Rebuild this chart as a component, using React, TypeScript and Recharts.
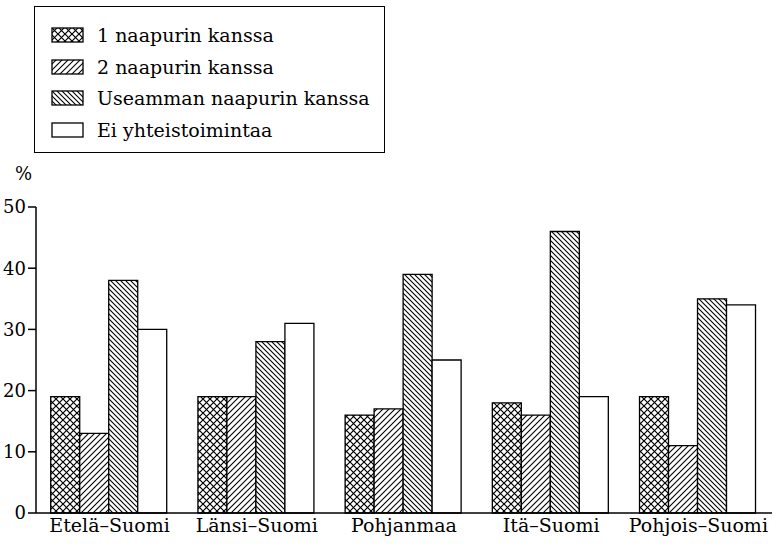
import React from "react";
import { Bar, BarChart, XAxis, YAxis } from "recharts";

const regions = ["Etelä–Suomi", "Länsi–Suomi", "Pohjanmaa", "Itä–Suomi", "Pohjois–Suomi"];
const oneNeighbour = [19, 19, 16, 18, 19];
const twoNeighbours = [13, 19, 17, 16, 11];
const manyNeighbours = [38, 28, 39, 46, 35];
const noCooperation = [30, 31, 25, 19, 34];
const leftTicks = [0, 10, 20, 30, 40, 50];
const rightTicks = [10, 20, 30, 40, 50];

const seriesNames = [
  "1 naapurin kanssa",
  "2 naapurin kanssa",
  "Useamman naapurin kanssa",
  "Ei yhteistoimintaa",
];
const seriesKeys = ["one", "two", "many", "none"];
const seriesFills = ["url(#pCross)", "url(#pFwd)", "url(#pBack)", "#fff"];

const chartData = regions.map((name, i) => ({
  name,
  one: oneNeighbour[i],
  two: twoNeighbours[i],
  many: manyNeighbours[i],
  none: noCooperation[i],
}));

const FONT = "DejaVu Serif";

// patterns shared by bars and legend swatches
const PatternDefs = () => (
  <svg width={0} height={0} style={{ position: "absolute" }}>
    <defs>
      <pattern id="pCross" patternUnits="userSpaceOnUse" width={7} height={7}>
        <rect width={7} height={7} fill="#fff" />
        <path d="M-1,-1 L8,8 M8,-1 L-1,8" stroke="#000" strokeWidth={1.2} />
      </pattern>
      <pattern id="pFwd" patternUnits="userSpaceOnUse" width={6} height={6}>
        <rect width={6} height={6} fill="#fff" />
        <path d="M0,6 L6,0 M-1,1 L1,-1 M5,7 L7,5" stroke="#000" strokeWidth={1.1} />
      </pattern>
      <pattern id="pBack" patternUnits="userSpaceOnUse" width={5} height={5}>
        <rect width={5} height={5} fill="#fff" />
        <path d="M0,0 L5,5 M-1,4 L1,6 M4,-1 L6,1" stroke="#000" strokeWidth={1.1} />
      </pattern>
    </defs>
  </svg>
);

const LegendBox = () => (
  <div
    style={{
      position: "absolute",
      left: 34,
      top: 6,
      width: 349,
      height: 145,
      border: "1.5px solid #000",
      fontFamily: FONT,
      fontSize: 19,
    }}
  >
    {seriesNames.map((label, i) => (
      <div
        key={label}
        style={{ position: "absolute", left: 16, top: 15 + i * 31.5, height: 26, display: "flex", alignItems: "center" }}
      >
        <svg width={34} height={16} style={{ marginRight: 12 }}>
          <rect x={1} y={1} width={31} height={14} fill={seriesFills[i]} stroke="#000" strokeWidth={1.3} />
        </svg>
        <span>{label}</span>
      </div>
    ))}
  </div>
);

export default function App() {
  return (
    <div style={{ position: "absolute", left: 0, top: 0, width: 777, height: 550, background: "#fff" }}>
      <PatternDefs />
      <LegendBox />
      <div style={{ position: "absolute", left: 15, top: 163, fontFamily: FONT, fontSize: 18 }}>%</div>
      <BarChart
        width={777}
        height={550}
        data={chartData}
        margin={{ top: 207, right: 5, bottom: 8, left: 0 }}
        barGap={0}
        barCategoryGap="10%"
      >
        <XAxis
          dataKey="name"
          stroke="#000"
          strokeWidth={1.5}
          tickLine={false}
          tickSize={4}
          height={29}
          tick={{ fill: "#000", fontFamily: FONT, fontSize: 19 }}
        />
        <XAxis xAxisId="top" orientation="top" dataKey="name" height={0} tick={false} tickLine={false} stroke="#000" strokeWidth={1.5} />
        <YAxis
          yAxisId="left"
          domain={[0, 50]}
          ticks={leftTicks}
          width={36}
          tickSize={8}
          stroke="#000"
          strokeWidth={1.5}
          tick={{ fill: "#000", fontFamily: FONT, fontSize: 18 }}
        />
        <YAxis
          yAxisId="leftInner"
          mirror
          domain={[0, 50]}
          ticks={leftTicks}
          width={0}
          tickSize={7}
          axisLine={false}
          tickFormatter={() => ""}
          stroke="#000"
          strokeWidth={1.5}
        />
        <YAxis
          yAxisId="right"
          orientation="right"
          mirror
          domain={[0, 60]}
          ticks={rightTicks}
          width={0}
          tickSize={6}
          tickFormatter={() => ""}
          stroke="#000"
          strokeWidth={1.5}
        />
        {seriesKeys.map((k, i) => (
          <Bar
            key={k}
            dataKey={k}
            name={seriesNames[i]}
            yAxisId="left"
            fill={seriesFills[i]}
            stroke="#000"
            strokeWidth={1.3}
            isAnimationActive={false}
          />
        ))}
      </BarChart>
    </div>
  );
}
